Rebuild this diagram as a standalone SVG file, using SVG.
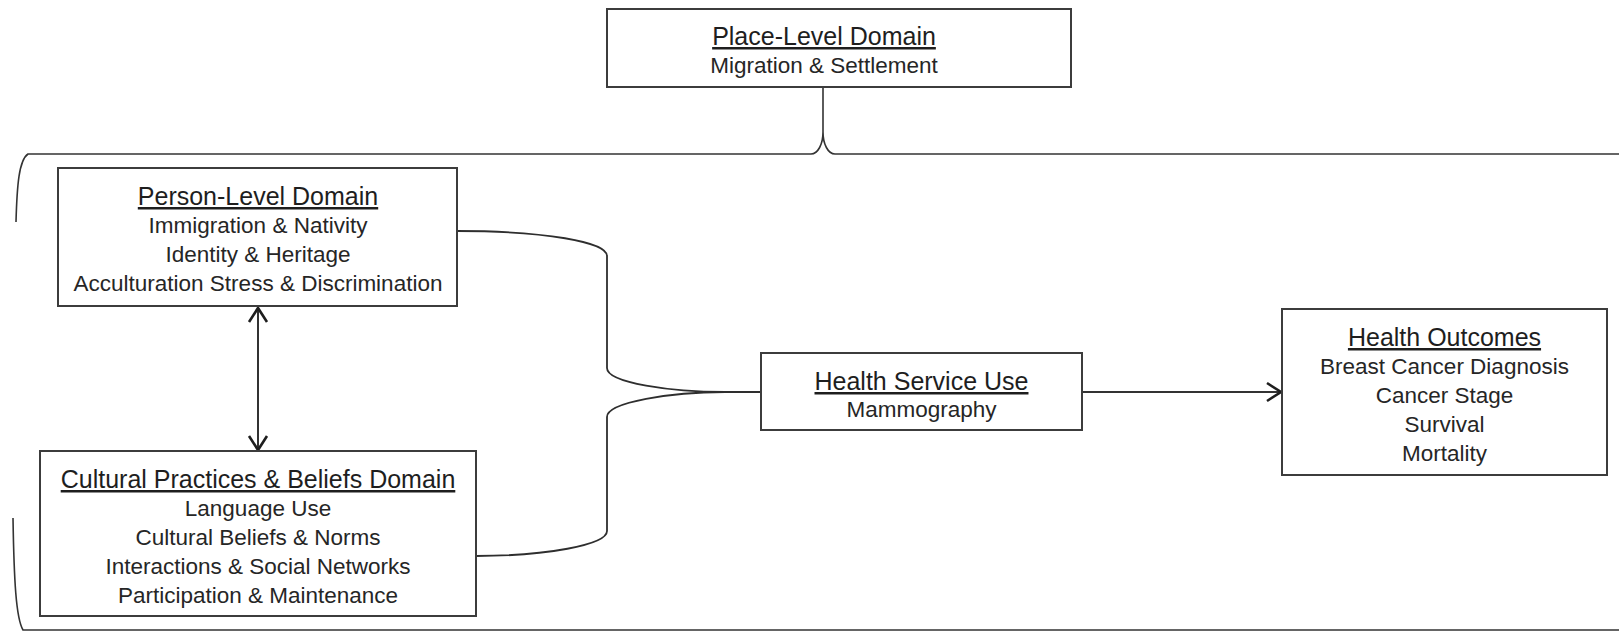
<svg xmlns="http://www.w3.org/2000/svg" width="1619" height="633" viewBox="0 0 1619 633">
  <style>
    .box { fill: #ffffff; stroke: #3c3c3c; stroke-width: 2; }
    .title { font-family: "Liberation Sans", Arial, sans-serif; font-size: 25px; fill: #1e1e1e; text-anchor: middle; text-decoration: underline; }
    .body { font-family: "Liberation Sans", Arial, sans-serif; font-size: 22.5px; fill: #262626; text-anchor: middle; }
    .brace { fill: none; stroke: #333333; stroke-width: 1.6; }
    .link { fill: none; stroke: #2e2e2e; stroke-width: 1.8; }
    .arrow { fill: none; stroke: #333333; stroke-width: 2; }
  </style>
  <defs>
    <marker id="chevron" viewBox="-16 -11 18 22" refX="0" refY="0" markerWidth="18" markerHeight="22" markerUnits="userSpaceOnUse" orient="auto-start-reverse" overflow="visible">
      <path d="M-14,-9 L0,0 L-14,9" fill="none" stroke="#1e1e1e" stroke-width="2.6" stroke-linejoin="miter"/>
    </marker>
  </defs>

  <rect width="1619" height="633" fill="#ffffff"/>

  <!-- connectors -->
  <g id="connectors">
    <!-- bracket grouping the person and cultural domains under the place domain -->
    <path class="brace" d="M823,87 V132"/>
    <path class="brace" d="M16,222 C17,185 19,160 28,154 H811 C818,154 823,144 823,132 C823,144 828,154 835,154 H1619"/>
    <path class="brace" d="M13,518 C14,580 16,618 23,630 H1619"/>
    <!-- domains feeding into health service use -->
    <path class="link" d="M457,231 C545,231 607,242 607,256 V368 C607,383 672,392 725,392 H761"/>
    <path class="link" d="M476,556 C545,556 607,545 607,531 V417 C607,402 672,392 725,392"/>
    <!-- person and cultural domains influence each other -->
    <path class="arrow" d="M258,308 V450" marker-start="url(#chevron)" marker-end="url(#chevron)"/>
    <!-- health service use to outcomes -->
    <path class="arrow" d="M1082,392 H1281" marker-end="url(#chevron)"/>
  </g>

  <g id="place-domain">
    <rect class="box" x="607" y="9" width="464" height="78"/>
    <text class="title" x="824" y="45">Place-Level Domain</text>
    <text class="body" x="824" y="73">Migration &amp; Settlement</text>
  </g>

  <g id="person-domain">
    <rect class="box" x="58" y="168" width="399" height="138"/>
    <text class="title" x="258" y="205">Person-Level Domain</text>
    <text class="body" x="258" y="233">Immigration &amp; Nativity</text>
    <text class="body" x="258" y="262">Identity &amp; Heritage</text>
    <text class="body" x="258" y="291">Acculturation Stress &amp; Discrimination</text>
  </g>

  <g id="cultural-domain">
    <rect class="box" x="40" y="451" width="436" height="165"/>
    <text class="title" x="258" y="488">Cultural Practices &amp; Beliefs Domain</text>
    <text class="body" x="258" y="516">Language Use</text>
    <text class="body" x="258" y="545">Cultural Beliefs &amp; Norms</text>
    <text class="body" x="258" y="574">Interactions &amp; Social Networks</text>
    <text class="body" x="258" y="603">Participation &amp; Maintenance</text>
  </g>

  <g id="health-service-use">
    <rect class="box" x="761" y="353" width="321" height="77"/>
    <text class="title" x="921.5" y="390">Health Service Use</text>
    <text class="body" x="921.5" y="417">Mammography</text>
  </g>

  <g id="health-outcomes">
    <rect class="box" x="1282" y="309" width="325" height="166"/>
    <text class="title" x="1444.5" y="346">Health Outcomes</text>
    <text class="body" x="1444.5" y="374">Breast Cancer Diagnosis</text>
    <text class="body" x="1444.5" y="403">Cancer Stage</text>
    <text class="body" x="1444.5" y="432">Survival</text>
    <text class="body" x="1444.5" y="461">Mortality</text>
  </g>
</svg>
